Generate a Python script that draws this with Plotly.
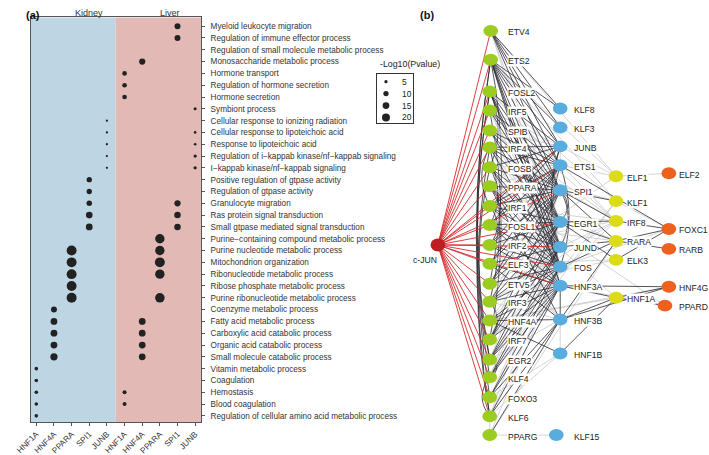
"""
Enrichment dot plot (kidney / liver) plus TF regulatory network
"""

import numpy as np
import plotly.graph_objects as go

FONT = 'Liberation Sans, Arial, sans-serif'
W, H = 709, 455

# ---------------- panel (a) data ----------------
terms = [
    'Myeloid leukocyte migration',
    'Regulation of immune effector process',
    'Regulation of small molecule metabolic process',
    'Monosaccharide metabolic process',
    'Hormone transport',
    'Regulation of hormone secretion',
    'Hormone secretion',
    'Symbiont process',
    'Cellular response to ionizing radiation',
    'Cellular response to lipoteichoic acid',
    'Response to lipoteichoic acid',
    'Regulation of i\u2212kappab kinase/nf\u2212kappab signaling',
    'I\u2212kappab kinase/nf\u2212kappab signaling',
    'Positive regulation of gtpase activity',
    'Regulation of gtpase activity',
    'Granulocyte migration',
    'Ras protein signal transduction',
    'Small gtpase mediated signal transduction',
    'Purine\u2212containing compound metabolic process',
    'Purine nucleotide metabolic process',
    'Mitochondrion organization',
    'Ribonucleotide metabolic process',
    'Ribose phosphate metabolic process',
    'Purine ribonucleotide metabolic process',
    'Coenzyme metabolic process',
    'Fatty acid metabolic process',
    'Carboxylic acid catabolic process',
    'Organic acid catabolic process',
    'Small molecule catabolic process',
    'Vitamin metabolic process',
    'Coagulation',
    'Hemostasis',
    'Blood coagulation',
    'Regulation of cellular amino acid metabolic process',
]
tfs = ['HNF1A', 'HNF4A', 'PPARA', 'SPI1', 'JUNB']
tissues = ['Kidney', 'Liver']

kidney_tf = ['JUNB'] * 5 + ['SPI1'] * 5 + ['PPARA'] * 5 + ['HNF4A'] * 5 + ['HNF1A'] * 5
kidney_term = terms[8:13] + terms[13:18] + terms[19:24] + terms[24:29] + terms[29:34]
kidney_logp = [3.4, 3.4, 3.4, 3.4, 3.4,
               10, 10, 10.5, 14.5, 15,
               30, 30, 30, 29.5, 30.5,
               12, 15, 15, 15, 17,
               5.6, 5.6, 5.6, 5.6, 5.6]

liver_tf = (['SPI1'] * 2 + ['HNF4A'] + ['HNF1A'] * 3 + ['JUNB'] * 5 + ['SPI1'] * 3
            + ['PPARA'] * 5 + ['HNF4A'] * 4 + ['HNF1A'] * 2)
liver_term = (terms[0:2] + [terms[3]] + terms[4:7] + [terms[7]] + terms[9:13] + terms[15:18]
              + terms[18:22] + [terms[23]] + terms[25:29] + terms[31:33])
liver_logp = [12, 12, 13, 8, 8, 8,
              4.5, 4, 4, 5, 5,
              13, 14, 14,
              27, 27, 30, 27, 28,
              15, 15, 15, 15,
              6.5, 6.5]

legend_breaks = [5, 10, 15, 20]

# ---------------- panel (b) data ----------------
green_nodes = ['ETV4', 'ETS2', 'FOSL2', 'IRF5', 'SPIB', 'IRF4', 'FOSB', 'PPARA', 'IRF1', 'FOSL1',
               'IRF2', 'ELF3', 'ETV5', 'IRF3', 'HNF4A', 'IRF7', 'EGR2', 'KLF4', 'FOXO3', 'KLF6', 'PPARG']
green_x = [486, 486, 485, 485, 485, 485, 485, 485, 485, 485,
           485, 485, 485, 485, 485, 485, 485, 485, 485, 485, 485]
green_y = [31, 60, 92, 111, 131, 148, 168, 187, 207, 226,
           246, 265, 285, 303, 322, 341, 361, 379, 399, 418, 437]

blue_nodes = ['KLF8', 'KLF3', 'JUNB', 'ETS1', 'SPI1', 'EGR1', 'JUND', 'FOS', 'HNF3A', 'HNF3B', 'HNF1B', 'KLF15']
blue_x = [557, 557, 557, 557, 557, 557, 557, 557, 557, 557, 557, 553]
blue_y = [109, 128, 147, 166, 191, 223, 248, 268, 287, 321, 355, 437]

yellow_nodes = ['ELF1', 'KLF1', 'IRF8', 'RARA', 'ELK3', 'HNF1A']
yellow_x = [614, 614, 614, 614, 614, 614]
yellow_y = [177, 202, 222, 242, 261, 299]

orange_nodes = ['ELF2', 'FOXC1', 'RARB', 'HNF4G', 'PPARD']
orange_x = [668, 668, 668, 668, 664]
orange_y = [174, 230, 250, 288, 307]

hub_node = 'c-JUN'
hub_x, hub_y = 432, 246

# c-JUN targets (red)
red_targets = green_nodes[:-1] + ['JUNB', 'ETS1', 'SPI1', 'EGR1', 'JUND', 'FOS', 'HNF3A']

# dark regulatory edges
dark_edges = [
    ('ETV4', 'KLF8'), ('ETV4', 'KLF3'), ('ETV4', 'JUNB'), ('ETV4', 'ETS1'), ('ETV4', 'SPI1'),
    ('ETS2', 'KLF8'), ('ETS2', 'KLF3'), ('ETS2', 'JUNB'), ('ETS2', 'ETS1'), ('ETS2', 'SPI1'),
    ('ETS2', 'EGR1'), ('ETS2', 'JUND'), ('ETS2', 'FOS'), ('ETS2', 'HNF3A'),
    ('FOSL2', 'JUNB'), ('FOSL2', 'SPI1'), ('FOSL2', 'EGR1'), ('FOSL2', 'JUND'), ('FOSL2', 'FOS'),
    ('IRF5', 'ETS1'), ('IRF5', 'SPI1'), ('IRF5', 'EGR1'),
    ('SPIB', 'ETS1'), ('SPIB', 'SPI1'), ('SPIB', 'EGR1'), ('SPIB', 'JUND'),
    ('IRF4', 'JUNB'), ('IRF4', 'ETS1'), ('IRF4', 'SPI1'), ('IRF4', 'EGR1'), ('IRF4', 'FOS'),
    ('FOSB', 'JUNB'), ('FOSB', 'SPI1'), ('FOSB', 'EGR1'), ('FOSB', 'JUND'), ('FOSB', 'FOS'),
    ('PPARA', 'SPI1'), ('PPARA', 'JUND'), ('PPARA', 'FOS'), ('PPARA', 'HNF3A'), ('PPARA', 'HNF3B'),
    ('IRF1', 'JUNB'), ('IRF1', 'ETS1'), ('IRF1', 'SPI1'), ('IRF1', 'EGR1'), ('IRF1', 'JUND'), ('IRF1', 'FOS'),
    ('FOSL1', 'JUNB'), ('FOSL1', 'ETS1'), ('FOSL1', 'EGR1'), ('FOSL1', 'JUND'), ('FOSL1', 'FOS'), ('FOSL1', 'HNF3A'),
    ('IRF2', 'ETS1'), ('IRF2', 'SPI1'), ('IRF2', 'EGR1'), ('IRF2', 'FOS'), ('IRF2', 'HNF3A'),
    ('ELF3', 'ETS1'), ('ELF3', 'SPI1'), ('ELF3', 'JUND'), ('ELF3', 'HNF3A'), ('ELF3', 'HNF3B'),
    ('ETV5', 'ETS1'), ('ETV5', 'SPI1'), ('ETV5', 'EGR1'), ('ETV5', 'FOS'),
    ('IRF3', 'SPI1'), ('IRF3', 'EGR1'), ('IRF3', 'JUND'), ('IRF3', 'FOS'), ('IRF3', 'HNF3A'),
    ('HNF4A', 'FOS'), ('HNF4A', 'HNF3A'), ('HNF4A', 'HNF3B'), ('HNF4A', 'HNF1B'),
    ('IRF7', 'SPI1'), ('IRF7', 'EGR1'), ('IRF7', 'JUND'), ('IRF7', 'HNF3A'),
    ('EGR2', 'EGR1'), ('EGR2', 'JUND'), ('EGR2', 'FOS'), ('EGR2', 'HNF3A'),
    ('KLF4', 'JUND'), ('KLF4', 'FOS'), ('KLF4', 'HNF3A'),
    ('FOXO3', 'FOS'), ('FOXO3', 'HNF3A'), ('FOXO3', 'HNF3B'),
    ('KLF6', 'HNF3A'), ('KLF6', 'HNF3B'), ('PPARG', 'HNF3B'),
    ('ETS1', 'FOXC1'), ('SPI1', 'KLF1'), ('SPI1', 'IRF8'), ('SPI1', 'RARA'),
    ('EGR1', 'IRF8'), ('EGR1', 'RARA'), ('EGR1', 'ELK3'), ('JUND', 'RARA'), ('FOS', 'RARA'),
    ('HNF3A', 'HNF1A'), ('HNF3A', 'HNF4G'), ('HNF3B', 'HNF1A'), ('HNF3B', 'RARA'), ('HNF3B', 'HNF4G'),
    ('HNF1B', 'HNF1A'), ('HNF3A', 'HNF3B'),
    ('IRF8', 'FOXC1'), ('RARA', 'FOXC1'), ('RARA', 'RARB'), ('ELK3', 'FOXC1'),
    ('HNF1A', 'HNF4G'), ('HNF1A', 'PPARD'),
]

# light grey edges
grey_edges = [
    ('ETV4', 'ELF1'), ('ETV4', 'EGR1'), ('ETV4', 'JUND'),
    ('ETS2', 'ELF1'), ('ETS2', 'KLF1'), ('ETS2', 'FOS'),
    ('FOSL2', 'ETS1'), ('FOSL2', 'IRF8'), ('FOSL2', 'KLF1'),
    ('IRF5', 'IRF8'), ('IRF5', 'JUNB'), ('IRF5', 'JUND'), ('IRF5', 'FOS'),
    ('SPIB', 'IRF8'), ('SPIB', 'FOS'), ('SPIB', 'JUNB'),
    ('IRF4', 'IRF8'), ('IRF4', 'JUND'), ('IRF4', 'HNF3A'),
    ('FOSB', 'ETS1'), ('FOSB', 'KLF1'), ('FOSB', 'HNF3A'),
    ('PPARA', 'RARA'), ('PPARA', 'EGR1'), ('PPARA', 'ETS1'), ('PPARA', 'HNF1A'), ('PPARA', 'PPARD'), ('PPARA', 'KLF3'),
    ('IRF1', 'IRF8'), ('IRF1', 'HNF3A'),
    ('FOSL1', 'SPI1'), ('FOSL1', 'HNF3B'), ('FOSL1', 'RARA'),
    ('IRF2', 'IRF8'), ('IRF2', 'JUND'), ('IRF2', 'HNF3B'),
    ('ELF3', 'ELF1'), ('ELF3', 'EGR1'), ('ELF3', 'FOS'), ('ELF3', 'ELK3'),
    ('ETV5', 'JUND'), ('ETV5', 'HNF3A'), ('ETV5', 'ELK3'),
    ('IRF3', 'IRF8'), ('IRF3', 'ETS1'), ('IRF3', 'HNF3B'),
    ('HNF4A', 'HNF1A'), ('HNF4A', 'JUND'), ('HNF4A', 'EGR1'), ('HNF4A', 'HNF4G'),
    ('IRF7', 'IRF8'), ('IRF7', 'ETS1'), ('IRF7', 'FOS'),
    ('EGR2', 'SPI1'), ('EGR2', 'HNF3B'), ('EGR2', 'KLF1'),
    ('KLF4', 'EGR1'), ('KLF4', 'SPI1'), ('KLF4', 'KLF1'),
    ('FOXO3', 'JUND'), ('FOXO3', 'HNF1B'),
    ('KLF6', 'FOS'), ('KLF6', 'HNF1B'), ('KLF6', 'EGR1'),
    ('PPARG', 'KLF15'), ('PPARG', 'FOS'), ('PPARG', 'RARA'), ('KLF6', 'PPARG'),
    ('JUNB', 'ELF1'), ('ETS1', 'ELF1'), ('JUND', 'IRF8'), ('FOS', 'FOXC1'), ('KLF1', 'FOXC1'),
    ('ELF1', 'ELF2'), ('HNF3A', 'PPARD'), ('HNF3B', 'HNF1B'), ('JUNB', 'ETS1'),
]

# curved edges inside a column: (source, target, side) side -1 = bulge left, +1 = bulge right
arc_edges = [
    ('ETS2', 'KLF6', -1), ('ETS2', 'FOXO3', -1), ('FOSL2', 'KLF4', -1), ('FOSL2', 'EGR2', -1),
    ('IRF4', 'KLF6', -1), ('IRF4', 'IRF1', -1), ('KLF4', 'KLF6', -1), ('FOSB', 'EGR2', -1),
    ('FOSB', 'FOSL1', 1), ('IRF1', 'IRF2', 1), ('IRF5', 'IRF7', 1), ('IRF3', 'IRF7', 1),
    ('FOSL2', 'FOSB', 1), ('ETS2', 'ETV5', 1), ('EGR2', 'KLF4', 1), ('IRF4', 'IRF3', 1),
    ('JUNB', 'FOS', -1), ('JUNB', 'JUND', -1), ('EGR1', 'FOS', -1), ('ETS1', 'HNF3A', -1),
    ('ETS1', 'FOS', 1), ('SPI1', 'JUND', 1), ('SPI1', 'EGR1', 1),
]


def size_of(v):
    """Marker diameter (px) for a -log10 p value (area ~ value)."""
    return np.sqrt(3.5 * np.asarray(v, dtype=float) - 6.6)


def add_dot_panel(fig):
    col = {(t, f): i * len(tfs) + j for i, t in enumerate(tissues) for j, f in enumerate(tfs)}
    row = {t: i for i, t in enumerate(terms)}

    for tissue, tf_list, term_list, vals in [('Kidney', kidney_tf, kidney_term, kidney_logp),
                                             ('Liver', liver_tf, liver_term, liver_logp)]:
        fig.add_trace(go.Scatter(
            x=[col[(tissue, f)] for f in tf_list],
            y=[row[t] for t in term_list],
            mode='markers',
            marker=dict(size=size_of(vals), color='#222222', opacity=1, line=dict(width=0)),
            xaxis='x', yaxis='y', showlegend=False, hoverinfo='skip'
        ))

    # tissue backgrounds
    fig.add_shape(type='rect', xref='x', yref='y domain', x0=-1, x1=4.5, y0=0, y1=1,
                  fillcolor='#bed5e3', line_width=0, layer='below')
    fig.add_shape(type='rect', xref='x', yref='y domain', x0=4.5, x1=10, y0=0, y1=1,
                  fillcolor='#e3b9b5', line_width=0, layer='below')

    for t, cx in zip(tissues, [59.5, 146.5]):
        fig.add_annotation(text=t, xref='paper', yref='paper', x=cx / W,
                           y=1 - 6 / H, showarrow=False, font=dict(size=9, color='#333333'))

    # size legend (its own little axis pair)
    fig.add_trace(go.Scatter(
        x=[9] * len(legend_breaks), y=list(range(len(legend_breaks))), mode='markers',
        marker=dict(size=size_of(legend_breaks), color='#222222', opacity=1, line=dict(width=0)),
        xaxis='x3', yaxis='y3', showlegend=False, hoverinfo='skip'
    ))
    for i, b in enumerate(legend_breaks):
        fig.add_annotation(text=str(b), xref='x3', yref='y3', x=23, y=i, xanchor='left',
                           showarrow=False, font=dict(size=8.4, color='#222222'))
    fig.add_annotation(text='-Log10(Pvalue)', xref='paper', yref='paper', x=371 / W, y=1 - 64 / H,
                       xanchor='left', yanchor='middle', showarrow=False,
                       font=dict(size=8.8, color='#222222'))


def add_network_panel(fig):
    pos = {hub_node: (hub_x, hub_y)}
    for names, xs, ys in [(green_nodes, green_x, green_y), (blue_nodes, blue_x, blue_y),
                          (yellow_nodes, yellow_x, yellow_y), (orange_nodes, orange_x, orange_y)]:
        for n, x, y in zip(names, xs, ys):
            pos[n] = (x, y)

    # curved edges within a column
    for a, b, side in arc_edges:
        (x0, y0), (x1, y1) = pos[a], pos[b]
        bend = 14 + 0.04 * abs(y1 - y0)
        cx, cy = (x0 + x1) / 2 + side * bend, (y0 + y1) / 2
        fig.add_shape(type='path', xref='x2', yref='y2', layer='below',
                      path=f'M {x0},{y0} Q {cx},{cy} {x1},{y1}',
                      line=dict(color='#2a2a33', width=0.8))

    def edge_trace(edges, color, width):
        xs, ys = [], []
        for a, b in edges:
            xs += [pos[a][0], pos[b][0], None]
            ys += [pos[a][1], pos[b][1], None]
        return go.Scatter(x=xs, y=ys, mode='lines', line=dict(color=color, width=width),
                          xaxis='x2', yaxis='y2', showlegend=False, hoverinfo='skip')

    fig.add_trace(edge_trace(grey_edges, '#c9c9c9', 0.8))
    fig.add_trace(edge_trace(dark_edges, '#2a2a33', 0.8))
    fig.add_trace(edge_trace([(hub_node, t) for t in red_targets], '#d42b2b', 0.9))

    # nodes as ellipses
    groups = [(green_nodes, '#9bcc1f', 505), (blue_nodes, '#58acde', 572),
              (yellow_nodes, '#dcdc16', 626), (orange_nodes, '#ee601e', 679)]
    for names, color, label_x in groups:
        for n in names:
            x, y = pos[n]
            fig.add_shape(type='circle', xref='x2', yref='y2', layer='above',
                          x0=x - 7.5, x1=x + 7.5, y0=y - 6, y1=y + 6,
                          fillcolor=color, line_width=0)
            fig.add_annotation(text=n, xref='x2', yref='y2', x=label_x - 2, y=y + 1.5,
                               xanchor='left', showarrow=False, bgcolor='white', borderpad=0,
                               font=dict(size=8.6, color='#222222'))

    fig.add_shape(type='circle', xref='x2', yref='y2', layer='above',
                  x0=hub_x - 7.5, x1=hub_x + 7.5, y0=hub_y - 6.5, y1=hub_y + 6.5,
                  fillcolor='#be1e23', line_width=0)
    fig.add_annotation(text=hub_node, xref='x2', yref='y2', x=419, y=261, showarrow=False,
                       font=dict(size=8.6, color='#222222'))


fig = go.Figure()
add_dot_panel(fig)
add_network_panel(fig)

for label, px in [('<b>(a)</b>', 9), ('<b>(b)</b>', 421)]:
    fig.add_annotation(text=label, xref='paper', yref='paper', x=px / W, y=1 - 7 / H,
                       showarrow=False, font=dict(size=11, color='#111111'))

axis_line = dict(showline=True, mirror=True, linecolor='#555555', linewidth=1,
                 showgrid=False, zeroline=False, fixedrange=True)

fig.update_layout(
    width=W, height=H,
    margin=dict(l=0, r=0, t=0, b=0),
    paper_bgcolor='white',
    plot_bgcolor='rgba(0,0,0,0)',
    font=dict(family=FONT, color='#333333'),
    showlegend=False,
    xaxis=dict(domain=[16 / W, 190 / W], range=[-0.32, 9.33],
               tickmode='array', tickvals=list(range(len(tfs) * len(tissues))),
               ticktext=tfs * len(tissues), tickangle=-45,
               ticks='outside', ticklen=3, tickcolor='#555555',
               tickfont=dict(size=8.2, color='#333333'), **axis_line),
    yaxis=dict(domain=[1 - 424 / H, 1 - 17.5 / H], range=[33.53, -0.74], side='right',
               tickmode='array', tickvals=list(range(len(terms))), ticktext=terms,
               ticks='outside', ticklen=3, tickcolor='#555555', ticklabelstandoff=4,
               tickfont=dict(size=8.2, color='#333333'), **axis_line),
    xaxis2=dict(domain=[400 / W, 1], range=[400, 709], visible=False, fixedrange=True, anchor='y2'),
    yaxis2=dict(domain=[0, 1], range=[455, 0], visible=False, fixedrange=True, anchor='x2'),
    xaxis3=dict(domain=[370 / W, 407 / W], range=[0, 37], showticklabels=False, ticks='',
                anchor='y3', **dict(axis_line, linecolor='#333333')),
    yaxis3=dict(domain=[1 - 124 / H, 1 - 74 / H], range=[3.5, -0.67], showticklabels=False,
                ticks='', anchor='x3', **dict(axis_line, linecolor='#333333')),
)

# page body has a default margin; drop it so the figure sits at the window origin
fig.write_html("out.html", config={'displayModeBar': False},
               post_script="document.body.style.margin='0px';")
